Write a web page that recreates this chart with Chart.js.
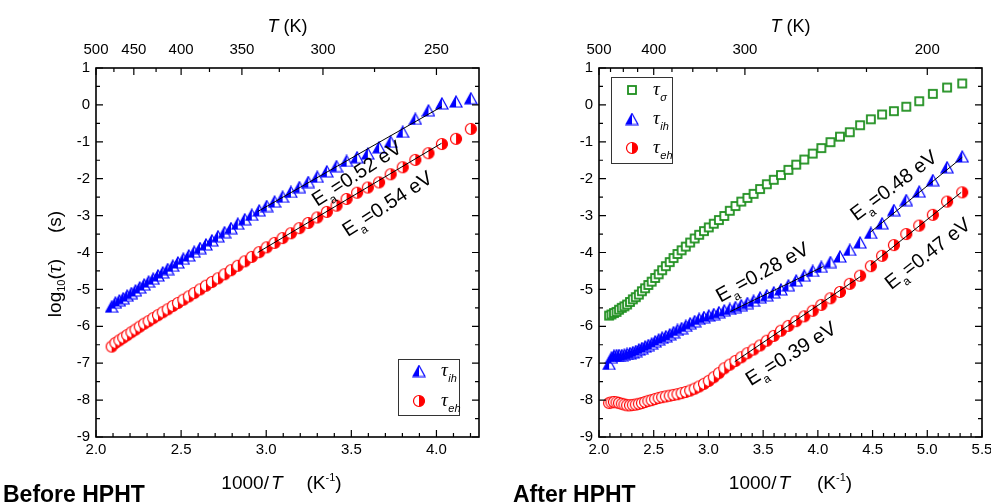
<!DOCTYPE html>
<html>
<head>
<meta charset="utf-8">
<script src="https://cdn.jsdelivr.net/npm/chart.js@4/dist/chart.umd.min.js"></script>
<style>
  html, body { margin: 0; padding: 0; background: #fff; }
  #wrap { position: relative; width: 991px; height: 504px; overflow: hidden; }
  #c1 { position: absolute; left: 0; top: 0; }
  #c2 { position: absolute; left: 495px; top: 0; }
</style>
</head>
<body>
<div id="wrap">
  <canvas id="c1" width="495" height="504" style="width:495px;height:504px"></canvas>
  <canvas id="c2" width="496" height="504" style="width:496px;height:504px"></canvas>
</div>
<script>
// ---- data (x = 1000/T, y = log10(tau)) ----
const beforeX = [2.092,2.114,2.137,2.160,2.183,2.208,2.232,2.257,2.283,2.309,2.336,2.364,2.392,2.421,2.451,2.481,2.513,2.545,2.577,2.611,2.646,2.681,2.717,2.755,2.793,2.833,2.874,2.915,2.959,3.003,3.049,3.096,3.145,3.195,3.247,3.300,3.356,3.413,3.472,3.534,3.597,3.663,3.731,3.802,3.876,3.953,4.032,4.115,4.202];
const beforeTauIh = [-5.47,-5.36,-5.30,-5.24,-5.17,-5.10,-5.03,-4.95,-4.87,-4.79,-4.71,-4.62,-4.54,-4.45,-4.36,-4.27,-4.17,-4.08,-3.98,-3.88,-3.78,-3.67,-3.56,-3.45,-3.34,-3.22,-3.10,-2.98,-2.86,-2.74,-2.62,-2.49,-2.36,-2.23,-2.09,-1.95,-1.80,-1.66,-1.52,-1.42,-1.32,-1.15,-1.00,-0.73,-0.38,-0.15,0.04,0.09,0.18];
const beforeTauEh = [-6.55,-6.45,-6.38,-6.31,-6.24,-6.16,-6.09,-6.01,-5.93,-5.86,-5.78,-5.70,-5.62,-5.54,-5.45,-5.37,-5.28,-5.19,-5.10,-5.00,-4.90,-4.80,-4.70,-4.59,-4.48,-4.36,-4.24,-4.12,-3.99,-3.86,-3.74,-3.61,-3.48,-3.34,-3.20,-3.05,-2.90,-2.73,-2.55,-2.38,-2.24,-2.10,-1.88,-1.69,-1.49,-1.31,-1.06,-0.92,-0.65];

const afterX = [2.092,2.114,2.137,2.160,2.183,2.208,2.232,2.257,2.283,2.309,2.336,2.364,2.392,2.421,2.451,2.481,2.513,2.545,2.577,2.611,2.646,2.681,2.717,2.755,2.793,2.833,2.874,2.915,2.959,3.003,3.049,3.096,3.145,3.195,3.247,3.300,3.356,3.413,3.472,3.534,3.597,3.663,3.731,3.802,3.876,3.953,4.032,4.115,4.202,4.292,4.386,4.484,4.587,4.695,4.808,4.926,5.051,5.181,5.319];
const afterTauSigma = [-5.71,-5.68,-5.64,-5.61,-5.55,-5.50,-5.46,-5.41,-5.34,-5.27,-5.21,-5.14,-5.05,-4.97,-4.88,-4.79,-4.69,-4.59,-4.48,-4.37,-4.26,-4.15,-4.04,-3.94,-3.84,-3.73,-3.62,-3.52,-3.42,-3.32,-3.22,-3.12,-3.01,-2.87,-2.74,-2.62,-2.52,-2.41,-2.28,-2.15,-2.03,-1.90,-1.76,-1.62,-1.48,-1.32,-1.17,-1.01,-0.86,-0.74,-0.55,-0.39,-0.26,-0.17,-0.05,0.10,0.30,0.47,0.58];
const afterTauIh = [-7.02,-6.85,-6.80,-6.78,-6.78,-6.78,-6.77,-6.75,-6.73,-6.70,-6.67,-6.63,-6.59,-6.55,-6.51,-6.47,-6.41,-6.36,-6.31,-6.27,-6.22,-6.16,-6.10,-6.05,-5.99,-5.92,-5.86,-5.80,-5.75,-5.71,-5.67,-5.62,-5.57,-5.53,-5.48,-5.43,-5.37,-5.31,-5.22,-5.16,-5.08,-5.00,-4.89,-4.76,-4.63,-4.50,-4.39,-4.26,-4.11,-3.93,-3.73,-3.47,-3.21,-2.85,-2.58,-2.35,-2.04,-1.69,-1.40];
const afterTauEh = [-8.08,-8.06,-8.05,-8.06,-8.08,-8.10,-8.12,-8.14,-8.14,-8.13,-8.12,-8.10,-8.08,-8.05,-8.02,-8.00,-7.97,-7.94,-7.92,-7.90,-7.88,-7.86,-7.84,-7.81,-7.78,-7.74,-7.69,-7.63,-7.56,-7.48,-7.38,-7.27,-7.14,-7.04,-6.94,-6.84,-6.73,-6.63,-6.52,-6.39,-6.26,-6.12,-5.99,-5.86,-5.73,-5.58,-5.42,-5.24,-5.07,-4.85,-4.63,-4.37,-4.09,-3.80,-3.50,-3.27,-2.98,-2.62,-2.37];

// linear fits (end points)
const fitBeforeIhX = [2.95, 4.03], fitBeforeIhY = [-2.89, -0.05];
const fitBeforeEhX = [2.95, 4.03], fitBeforeEhY = [-4.00, -1.04];
const fitAfterIhLowX = [3.20, 4.05], fitAfterIhLowY = [-5.60, -4.38];
const fitAfterIhHighX = [4.48, 5.32], fitAfterIhHighY = [-3.45, -1.42];
const fitAfterEhLowX = [3.24, 4.39], fitAfterEhLowY = [-6.96, -4.65];
const fitAfterEhHighX = [4.48, 5.31], fitAfterEhHighY = [-4.34, -2.37];

// activation energies (eV)
const eaBefore = ['0.52', '0.54'];
const eaAfter = ['0.28', '0.39', '0.48', '0.47'];

// tick labels
const beforeTopT = [500, 450, 400, 350, 300, 250];
const beforeTopMinorT = [475, 425, 375, 325, 275];
const afterTopT = [500, 400, 300, 200];
const afterTopMinorT = [475, 450, 425, 375, 350, 325, 250, 225];

const SANS = '"Liberation Sans", Arial, sans-serif';
const SERIF = '"Liberation Serif", "Times New Roman", serif';
Chart.defaults.font.family = SANS;
Chart.defaults.color = '#000';

const BLUE = '#0000ff', RED = '#ff0000', GREEN = '#1f8f1f';

// half filled markers
function markerTri(color) {
  const c = document.createElement('canvas');
  c.width = 14; c.height = 13;
  const g = c.getContext('2d');
  g.lineWidth = 1.2;
  g.beginPath(); g.moveTo(7, 1); g.lineTo(13, 12); g.lineTo(1, 12); g.closePath();
  g.fillStyle = '#fff'; g.fill();
  g.beginPath(); g.moveTo(7, 1); g.lineTo(7, 12); g.lineTo(1, 12); g.closePath();
  g.fillStyle = color; g.fill();
  g.beginPath(); g.moveTo(7, 1); g.lineTo(13, 12); g.lineTo(1, 12); g.closePath();
  g.strokeStyle = color; g.stroke();
  return c;
}
function markerCircle(color) {
  const c = document.createElement('canvas');
  c.width = 14; c.height = 14;
  const g = c.getContext('2d');
  g.lineWidth = 1.2;
  g.beginPath(); g.arc(7, 7, 5.5, 0, Math.PI * 2);
  g.fillStyle = '#fff'; g.fill();
  g.beginPath(); g.moveTo(7, 7); g.arc(7, 7, 5.5, -Math.PI / 2, Math.PI / 2); g.closePath();
  g.fillStyle = color; g.fill();
  g.beginPath(); g.arc(7, 7, 5.5, 0, Math.PI * 2);
  g.strokeStyle = color; g.stroke();
  return c;
}
function markerSquare(color) {
  const c = document.createElement('canvas');
  c.width = 12; c.height = 12;
  const g = c.getContext('2d');
  g.fillStyle = '#fff'; g.fillRect(2, 2, 8, 8);
  g.lineWidth = 1.8; g.strokeStyle = color; g.strokeRect(2, 2, 8, 8);
  return c;
}
const triBlue = markerTri(BLUE), circRed = markerCircle(RED), sqGreen = markerSquare(GREEN);

const zip = (xs, ys) => xs.map((x, i) => ({ x: x, y: ys[i] }));

function pointSet(label, xs, ys, marker) {
  return { label: label, data: zip(xs, ys), pointStyle: marker, pointRadius: 6,
           showLine: false, order: 2 };
}
function fitSet(xs, ys) {
  return { label: 'fit', data: zip(xs, ys), showLine: true, borderColor: '#000',
           borderWidth: 1, pointRadius: 0, order: 0 };
}

// draw a row of text pieces; returns width
function runsWidth(ctx, runs) {
  let w = 0;
  runs.forEach(r => { ctx.font = r.f; w += (r.dx || 0) + ctx.measureText(r.t).width; });
  return w;
}
function drawRuns(ctx, runs, x, y) {
  let cx = x;
  runs.forEach(r => {
    ctx.font = r.f;
    cx += r.dx || 0;
    ctx.fillText(r.t, cx, y + (r.dy || 0));
    cx += ctx.measureText(r.t).width;
  });
}

function makePanel(cfg) {
  return {
    id: 'panel_' + cfg.name,
    afterDraw(chart) {
      const { ctx, chartArea: a, scales } = chart;
      const xs = scales.x, ys = scales.y;
      ctx.save();
      // ticks, all pointing inward
      ctx.strokeStyle = '#000';
      ctx.lineWidth = 1.2;
      ctx.beginPath();
      for (let i = 0; ; i++) {
        const v = xs.min + i * 0.1;
        if (v > xs.max + 1e-6) break;
        const major = Math.abs(v * 2 - Math.round(v * 2)) < 1e-6;
        const px = xs.getPixelForValue(v);
        ctx.moveTo(px, a.bottom); ctx.lineTo(px, a.bottom - (major ? 7 : 4));
      }
      cfg.topT.forEach(t => {
        const px = xs.getPixelForValue(1000 / t);
        ctx.moveTo(px, a.top); ctx.lineTo(px, a.top + 7);
      });
      cfg.topMinorT.forEach(t => {
        const px = xs.getPixelForValue(1000 / t);
        ctx.moveTo(px, a.top); ctx.lineTo(px, a.top + 4);
      });
      for (let i = 0; i <= 20; i++) {
        const v = ys.min + i * 0.5;
        const len = i % 2 === 0 ? 7 : 4;
        const py = ys.getPixelForValue(v);
        ctx.moveTo(a.left, py); ctx.lineTo(a.left + len, py);
        ctx.moveTo(a.right, py); ctx.lineTo(a.right - len, py);
      }
      ctx.stroke();
      ctx.lineWidth = 1.6;
      ctx.strokeRect(a.left, a.top, a.right - a.left, a.bottom - a.top);

      // activation energy labels
      ctx.fillStyle = '#000';
      cfg.eaLabels.forEach(l => {
        const px = xs.getPixelForValue(l.x), py = ys.getPixelForValue(l.y);
        const runs = [
          { t: 'E', f: '20px ' + SANS },
          { t: 'a', f: '12px ' + SANS, dy: 6, dx: 1 },
          { t: '=' + l.ea + ' eV', f: '20px ' + SANS, dx: 1 }
        ];
        ctx.save();
        ctx.translate(px, py);
        ctx.rotate(-l.angle * Math.PI / 180);
        ctx.textBaseline = 'alphabetic';
        const w = runsWidth(ctx, runs);
        drawRuns(ctx, runs, -w / 2, 7);
        ctx.restore();
      });

      // legend box
      const lg = cfg.legend;
      ctx.strokeStyle = '#333';
      ctx.lineWidth = 1;
      ctx.strokeRect(lg.x + 0.5, lg.y + 0.5, lg.w, lg.h);
      lg.items.forEach((it, i) => {
        const cy = lg.y + lg.first + i * lg.step;
        const m = it.marker;
        ctx.drawImage(m, lg.x + lg.iconX - m.width / 2, cy - m.height / 2);
        ctx.fillStyle = '#000';
        ctx.textBaseline = 'alphabetic';
        drawRuns(ctx, [
          { t: '\u03c4', f: 'italic 19px ' + SERIF },
          { t: it.sub, f: 'italic 11px ' + SANS, dy: 6, dx: 0.5 }
        ], lg.x + lg.textX, cy + 5);
      });

      // axis titles
      ctx.fillStyle = '#000';
      ctx.textBaseline = 'alphabetic';
      const midX = (a.left + a.right) / 2;
      const topRuns = [{ t: 'T', f: 'italic 18px ' + SANS }, { t: ' (K)', f: '18px ' + SANS }];
      drawRuns(ctx, topRuns, midX - runsWidth(ctx, topRuns) / 2, 32);

      const botRuns = [
        { t: '1000/', f: '19px ' + SANS },
        { t: 'T', f: 'italic 19px ' + SANS, dx: 2 },
        { t: '(K', f: '19px ' + SANS, dx: cfg.botGap },
        { t: '-1', f: '11px ' + SANS, dy: -8 },
        { t: ')', f: '19px ' + SANS }
      ];
      drawRuns(ctx, botRuns, midX + cfg.botShift - runsWidth(ctx, botRuns) / 2, 489);

      const yRuns = [
        { t: 'log', f: '19px ' + SANS },
        { t: '10', f: '11px ' + SANS, dy: 4 },
        { t: '(', f: '19px ' + SANS },
        { t: '\u03c4', f: 'italic 22px ' + SERIF },
        { t: ')', f: '19px ' + SANS },
        { t: '(s)', f: '19px ' + SANS, dx: 26 }
      ];
      ctx.save();
      ctx.translate(cfg.yTitleX, 264);
      ctx.rotate(-Math.PI / 2);
      drawRuns(ctx, yRuns, -runsWidth(ctx, yRuns) / 2, 0);
      ctx.restore();

      ctx.font = 'bold 23px ' + SANS;
      ctx.fillText(cfg.caption, cfg.captionX, 502);
      ctx.restore();
    }
  };
}

function makeScales(xMax, topT, yWidth, includeBounds) {
  return {
    x: {
      type: 'linear', position: 'bottom', min: 2, max: xMax,
      ticks: { stepSize: 0.5, includeBounds: includeBounds, autoSkip: false, maxRotation: 0,
               padding: 4, font: { size: 15 }, color: '#000',
               callback: v => Number(v).toFixed(1) },
      grid: { display: false, drawTicks: false }, border: { display: false },
      afterFit: s => { s.height = 67; s.paddingLeft = 0; s.paddingRight = 0; }
    },
    xt: {
      type: 'linear', position: 'top', min: 2, max: xMax,
      afterBuildTicks: s => { s.ticks = topT.map(t => ({ value: 1000 / t })); },
      ticks: { autoSkip: false, maxRotation: 0, padding: 9, font: { size: 15 }, color: '#000',
               callback: v => String(Math.round(1000 / v)) },
      grid: { display: false, drawTicks: false }, border: { display: false },
      afterFit: s => { s.height = 68; s.paddingLeft = 0; s.paddingRight = 0; }
    },
    y: {
      type: 'linear', position: 'left', min: -9, max: 1,
      ticks: { stepSize: 1, padding: 6, font: { size: 15 }, color: '#000' },
      grid: { display: false, drawTicks: false }, border: { display: false },
      afterFit: s => { s.width = yWidth; s.paddingTop = 0; s.paddingBottom = 0; }
    }
  };
}

const baseOptions = (scales, padRight) => ({
  responsive: false, animation: false, events: [],
  layout: { padding: { left: 0, right: padRight, top: 0, bottom: 0 } },
  plugins: { legend: { display: false }, tooltip: { enabled: false } },
  scales: scales
});

new Chart(document.getElementById('c1'), {
  type: 'scatter',
  data: {
    datasets: [
      fitSet(fitBeforeIhX, fitBeforeIhY),
      fitSet(fitBeforeEhX, fitBeforeEhY),
      pointSet('tau_ih', beforeX, beforeTauIh, triBlue),
      pointSet('tau_eh', beforeX, beforeTauEh, circRed)
    ]
  },
  options: baseOptions(makeScales(4.25, beforeTopT, 96, false), 16),
  plugins: [makePanel({
    name: 'before', topT: beforeTopT, topMinorT: beforeTopMinorT,
    eaLabels: [
      { ea: eaBefore[0], x: 3.53, y: -1.85, angle: 33 },
      { ea: eaBefore[1], x: 3.71, y: -2.67, angle: 33 }
    ],
    legend: { x: 398, y: 359, w: 61, h: 56, iconX: 21, textX: 43, first: 12, step: 30,
              items: [{ marker: triBlue, sub: 'ih' }, { marker: circRed, sub: 'eh' }] },
    botGap: 24, botShift: -6, yTitleX: 61, caption: 'Before HPHT', captionX: 3
  })]
});

new Chart(document.getElementById('c2'), {
  type: 'scatter',
  data: {
    datasets: [
      fitSet(fitAfterIhLowX, fitAfterIhLowY),
      fitSet(fitAfterIhHighX, fitAfterIhHighY),
      fitSet(fitAfterEhLowX, fitAfterEhLowY),
      fitSet(fitAfterEhHighX, fitAfterEhHighY),
      pointSet('tau_sigma', afterX, afterTauSigma, sqGreen),
      pointSet('tau_ih', afterX, afterTauIh, triBlue),
      pointSet('tau_eh', afterX, afterTauEh, circRed)
    ]
  },
  options: baseOptions(makeScales(5.5, afterTopT, 104, true), 9),
  plugins: [makePanel({
    name: 'after', topT: afterTopT, topMinorT: afterTopMinorT,
    eaLabels: [
      { ea: eaAfter[0], x: 3.49, y: -4.52, angle: 29 },
      { ea: eaAfter[1], x: 3.75, y: -6.73, angle: 32 },
      { ea: eaAfter[2], x: 4.69, y: -2.17, angle: 37 },
      { ea: eaAfter[3], x: 5.00, y: -4.02, angle: 38 }
    ],
    legend: { x: 116, y: 77, w: 61, h: 86, iconX: 21, textX: 42, first: 13, step: 29,
              items: [{ marker: sqGreen, sub: '\u03c3' }, { marker: triBlue, sub: 'ih' }, { marker: circRed, sub: 'eh' }] },
    botGap: 27, botShift: 0, yTitleX: 562, caption: 'After HPHT', captionX: 18
  })]
});
</script>
</body>
</html>
